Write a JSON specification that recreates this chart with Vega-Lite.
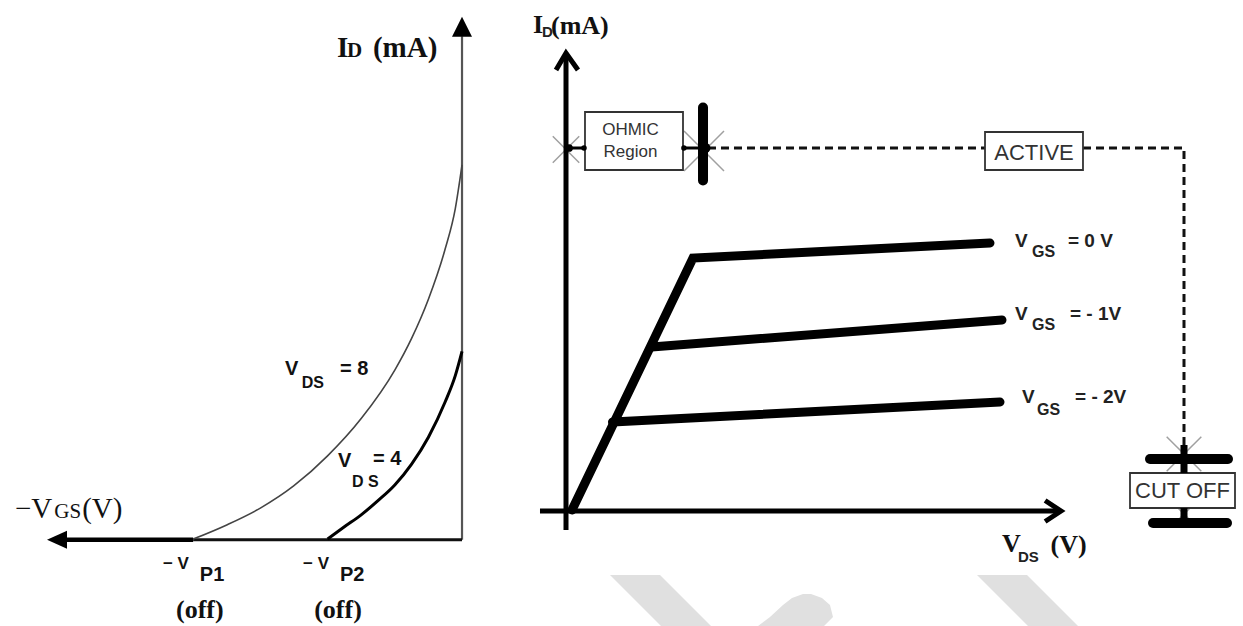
{
  "$schema": "https://vega.github.io/schema/vega-lite/v6.json",
  "background": "white",
  "padding": 0,
  "spacing": 0,
  "bounds": "flush",
  "config": {"view": {"stroke": null}},
  "resolve": {"scale": {"x": "independent", "y": "independent"}},
  "datasets": {
    "leftCurves": [
      {"curve": "VDS8", "i": 0, "x": -8, "y": -0.03},
      {"curve": "VDS8", "i": 1, "x": -7, "y": 0.35},
      {"curve": "VDS8", "i": 2, "x": -6, "y": 0.8},
      {"curve": "VDS8", "i": 3, "x": -5, "y": 1.4},
      {"curve": "VDS8", "i": 4, "x": -4, "y": 2.2},
      {"curve": "VDS8", "i": 5, "x": -3, "y": 3.2},
      {"curve": "VDS8", "i": 6, "x": -2, "y": 4.5},
      {"curve": "VDS8", "i": 7, "x": -1.5, "y": 5.35},
      {"curve": "VDS8", "i": 8, "x": -1, "y": 6.4},
      {"curve": "VDS8", "i": 9, "x": -0.5, "y": 7.75},
      {"curve": "VDS8", "i": 10, "x": -0.2, "y": 8.83},
      {"curve": "VDS8", "i": 11, "x": 0, "y": 10},
      {"curve": "VDS4", "i": 0, "x": -4, "y": -0.03},
      {"curve": "VDS4", "i": 1, "x": -3.5, "y": 0.3},
      {"curve": "VDS4", "i": 2, "x": -3, "y": 0.62},
      {"curve": "VDS4", "i": 3, "x": -2.5, "y": 1.0},
      {"curve": "VDS4", "i": 4, "x": -2, "y": 1.42},
      {"curve": "VDS4", "i": 5, "x": -1.5, "y": 1.98},
      {"curve": "VDS4", "i": 6, "x": -1, "y": 2.7},
      {"curve": "VDS4", "i": 7, "x": -0.5, "y": 3.65},
      {"curve": "VDS4", "i": 8, "x": -0.2, "y": 4.35},
      {"curve": "VDS4", "i": 9, "x": 0, "y": 5.0}
    ],
    "leftAxes": [
      {"part": "vaxis", "i": 0, "x": 0, "y": -0.05},
      {"part": "vaxis", "i": 1, "x": 0, "y": 13.45},
      {"part": "hthick", "i": 0, "x": -11.9, "y": -0.05},
      {"part": "hthick", "i": 1, "x": -8, "y": -0.05},
      {"part": "hthin", "i": 0, "x": -8, "y": -0.05},
      {"part": "hthin", "i": 1, "x": 0, "y": -0.05}
    ],
    "leftArrows": [
      {"dir": "up", "x": 0, "y": 13.7},
      {"dir": "left", "x": -12.05, "y": -0.05}
    ],
    "leftText": [
      {"role": "axisMain", "label": "I", "x": -3.72, "y": 12.89},
      {"role": "axisMain", "label": "(mA)", "x": -2.65, "y": 12.89},
      {"role": "axisSub", "label": "D", "x": -3.42, "y": 12.89},
      {"role": "vgsMain", "label": "−V", "x": -13.3, "y": 0.54},
      {"role": "vgsMain", "label": "(V)", "x": -11.3, "y": 0.54},
      {"role": "vgsSub", "label": "GS", "x": -12.13, "y": 0.54},
      {"role": "off", "label": "(off)", "x": -7.8, "y": -2.14},
      {"role": "off", "label": "(off)", "x": -3.69, "y": -2.14},
      {"role": "curveMain", "label": "V", "x": -5.27, "y": 4.37},
      {"role": "curveMain", "label": "= 8", "x": -3.63, "y": 4.37},
      {"role": "curveMain", "label": "V", "x": -3.69, "y": 1.9},
      {"role": "curveMain", "label": "= 4", "x": -2.65, "y": 1.96},
      {"role": "curveMain", "label": "P1", "x": -7.8, "y": -1.15},
      {"role": "curveMain", "label": "P2", "x": -3.63, "y": -1.15},
      {"role": "curveSub", "label": "DS", "x": -4.77, "y": 4.02},
      {"role": "curveSub", "label": "D S", "x": -3.27, "y": 1.37},
      {"role": "pinch", "label": "− V", "x": -8.9, "y": -0.83},
      {"role": "pinch", "label": "− V", "x": -4.73, "y": -0.83}
    ],
    "watermark": [
      {"band": "a", "y": -2.133, "x": 1.467, "x2": 3.133},
      {"band": "a", "y": -3.833, "x": 3.167, "x2": 4.833},
      {"band": "b", "y": -2.767, "x": 7.9, "x2": 8.167},
      {"band": "b", "y": -2.9, "x": 7.533, "x2": 8.533},
      {"band": "b", "y": -3.133, "x": 7.233, "x2": 8.8},
      {"band": "b", "y": -3.533, "x": 6.8, "x2": 8.9},
      {"band": "b", "y": -3.833, "x": 6.4, "x2": 8.6},
      {"band": "c", "y": -2.133, "x": 13.7, "x2": 15.367},
      {"band": "c", "y": -3.833, "x": 15.4, "x2": 17.067}
    ],
    "rightCurves": [
      {"part": "g0", "i": 0, "x": 0.2, "y": 0.033},
      {"part": "g0", "i": 1, "x": 4.233, "y": 8.433},
      {"part": "g0", "i": 2, "x": 14.133, "y": 8.933},
      {"part": "g1", "i": 0, "x": 2.85, "y": 5.467},
      {"part": "g1", "i": 1, "x": 14.533, "y": 6.367},
      {"part": "g2", "i": 0, "x": 1.55, "y": 2.967},
      {"part": "g2", "i": 1, "x": 14.467, "y": 3.633}
    ],
    "rightAxes": [
      {"part": "yaxis", "i": 0, "x": 0, "y": -0.633},
      {"part": "yaxis", "i": 1, "x": 0, "y": 15.2},
      {"part": "yarrow", "i": 0, "x": -0.333, "y": 14.7},
      {"part": "yarrow", "i": 1, "x": 0, "y": 15.267},
      {"part": "yarrow", "i": 2, "x": 0.4, "y": 14.7},
      {"part": "xaxis", "i": 0, "x": -0.867, "y": 0},
      {"part": "xaxis", "i": 1, "x": 16.4, "y": 0},
      {"part": "xarrow", "i": 0, "x": 15.97, "y": 0.35},
      {"part": "xarrow", "i": 1, "x": 16.5, "y": 0},
      {"part": "xarrow", "i": 2, "x": 15.97, "y": -0.35}
    ],
    "rightSolid": [
      {"part": "c1", "i": 0, "x": 0, "y": 12.1},
      {"part": "c1", "i": 1, "x": 0.633, "y": 12.1},
      {"part": "c2", "i": 0, "x": 3.9, "y": 12.1},
      {"part": "c2", "i": 1, "x": 4.567, "y": 12.1}
    ],
    "rightDashed": [
      {"part": "d1", "i": 0, "x": 4.733, "y": 12.1},
      {"part": "d1", "i": 1, "x": 13.967, "y": 12.1},
      {"part": "d2", "i": 0, "x": 17.233, "y": 12.1},
      {"part": "d2", "i": 1, "x": 20.6, "y": 12.1},
      {"part": "d2", "i": 2, "x": 20.6, "y": 2.2}
    ],
    "rightBars": [
      {"part": "b1", "i": 0, "x": 4.567, "y": 13.45},
      {"part": "b1", "i": 1, "x": 4.567, "y": 11.017},
      {"part": "b2", "i": 0, "x": 19.467, "y": 1.733},
      {"part": "b2", "i": 1, "x": 22.067, "y": 1.733},
      {"part": "b3", "i": 0, "x": 19.567, "y": -0.4},
      {"part": "b3", "i": 1, "x": 22.033, "y": -0.4}
    ],
    "rightConnectors": [
      {"part": "k1", "i": 0, "x": 20.6, "y": 2.2},
      {"part": "k1", "i": 1, "x": 20.6, "y": 1.267},
      {"part": "k2", "i": 0, "x": 20.6, "y": 0.1},
      {"part": "k2", "i": 1, "x": 20.6, "y": -0.4}
    ],
    "rightBoxes": [
      {"box": "OHMIC", "x": 0.633, "x2": 3.9, "y": 11.367, "y2": 13.3},
      {"box": "ACTIVE", "x": 13.967, "x2": 17.233, "y": 11.367, "y2": 12.633},
      {"box": "CUT OFF", "x": 18.8, "x2": 22.3, "y": 0.1, "y2": 1.267}
    ],
    "rightDots": [
      {"kind": "small", "x": 0.6, "y": 12.1},
      {"kind": "small", "x": 3.93, "y": 12.1},
      {"kind": "mid", "x": 0.1, "y": 12.1},
      {"kind": "big", "x": 4.633, "y": 12.1}
    ],
    "rightStars": [
      {"kind": "big", "x": 4.6, "y": 12.0},
      {"kind": "mid", "x": 0, "y": 12.05},
      {"kind": "mid2", "x": 20.6, "y": 1.9},
      {"kind": "small", "x": 20.6, "y": -0.1}
    ],
    "rightText": [
      {"role": "axisMain", "label": "I", "x": -1.1, "y": 15.933},
      {"role": "axisMain", "label": "(mA)", "x": -0.5, "y": 15.9},
      {"role": "axisMain", "label": "V", "x": 14.533, "y": -1.367},
      {"role": "axisMain", "label": "(V)", "x": 16.15, "y": -1.4},
      {"role": "sub", "label": "D", "x": -0.8, "y": 15.8},
      {"role": "sub", "label": "DS", "x": 15.067, "y": -1.7},
      {"role": "gsMain", "label": "V", "x": 14.967, "y": 8.8},
      {"role": "gsMain", "label": "= 0 V", "x": 16.733, "y": 8.8},
      {"role": "gsMain", "label": "V", "x": 14.967, "y": 6.367},
      {"role": "gsMain", "label": "= - 1V", "x": 16.8, "y": 6.367},
      {"role": "gsMain", "label": "V", "x": 15.2, "y": 3.6},
      {"role": "gsMain", "label": "= - 2V", "x": 16.967, "y": 3.6},
      {"role": "gsSub", "label": "GS", "x": 15.533, "y": 8.467},
      {"role": "gsSub", "label": "GS", "x": 15.533, "y": 6.033},
      {"role": "gsSub", "label": "GS", "x": 15.7, "y": 3.2},
      {"role": "region", "label": "OHMIC", "x": 2.15, "y": 12.533},
      {"role": "region", "label": "Region", "x": 2.15, "y": 11.8},
      {"role": "regionBig", "label": "ACTIVE", "x": 15.6, "y": 11.7},
      {"role": "regionBig", "label": "CUT OFF", "x": 20.55, "y": 0.433}
    ]
  },
  "hconcat": [
    {
      "width": 500,
      "height": 626,
      "encoding": {
        "x": {"field": "x", "type": "quantitative", "scale": {"domain": [-13.746, 1.13], "nice": false, "zero": false}, "axis": null},
        "y": {"field": "y", "type": "quantitative", "scale": {"domain": [-2.36, 14.42], "nice": false, "zero": false}, "axis": null}
      },
      "layer": [
        {
          "data": {"name": "leftAxes"},
          "transform": [{"filter": "datum.part === 'vaxis'"}],
          "mark": {"type": "line", "color": "#555555", "strokeWidth": 2.2},
          "encoding": {"detail": {"field": "part"}, "order": {"field": "i"}}
        },
        {
          "data": {"name": "leftAxes"},
          "transform": [{"filter": "datum.part === 'hthick'"}],
          "mark": {"type": "line", "color": "#000000", "strokeWidth": 4.5},
          "encoding": {"detail": {"field": "part"}, "order": {"field": "i"}}
        },
        {
          "data": {"name": "leftAxes"},
          "transform": [{"filter": "datum.part === 'hthin'"}],
          "mark": {"type": "line", "color": "#111111", "strokeWidth": 3},
          "encoding": {"detail": {"field": "part"}, "order": {"field": "i"}}
        },
        {
          "data": {"name": "leftCurves"},
          "transform": [{"filter": "datum.curve === 'VDS8'"}],
          "mark": {"type": "line", "color": "#444444", "strokeWidth": 1.6, "interpolate": "monotone"},
          "encoding": {"order": {"field": "i"}}
        },
        {
          "data": {"name": "leftCurves"},
          "transform": [{"filter": "datum.curve === 'VDS4'"}],
          "mark": {"type": "line", "color": "#000000", "strokeWidth": 3, "interpolate": "monotone"},
          "encoding": {"order": {"field": "i"}}
        },
        {
          "data": {"name": "leftArrows"},
          "transform": [{"filter": "datum.dir === 'up'"}],
          "mark": {"type": "point", "shape": "M0,-1L1,1L-1,1Z", "filled": true, "color": "#000000", "opacity": 1, "size": 400}
        },
        {
          "data": {"name": "leftArrows"},
          "transform": [{"filter": "datum.dir === 'left'"}],
          "mark": {"type": "point", "shape": "M-1,0L1,-0.9L1,0.9Z", "filled": true, "color": "#000000", "opacity": 1, "size": 400}
        },
        {
          "data": {"name": "leftText"},
          "transform": [{"filter": "datum.role === 'axisMain'"}],
          "mark": {"type": "text", "font": "Liberation Serif", "fontWeight": "bold", "fontSize": 29, "align": "left", "baseline": "alphabetic", "color": "#111111"},
          "encoding": {"text": {"field": "label"}}
        },
        {
          "data": {"name": "leftText"},
          "transform": [{"filter": "datum.role === 'axisSub'"}],
          "mark": {"type": "text", "font": "Liberation Serif", "fontWeight": "bold", "fontSize": 21, "align": "left", "baseline": "alphabetic", "color": "#111111"},
          "encoding": {"text": {"field": "label"}}
        },
        {
          "data": {"name": "leftText"},
          "transform": [{"filter": "datum.role === 'vgsMain'"}],
          "mark": {"type": "text", "font": "Liberation Serif", "fontSize": 29, "align": "left", "baseline": "alphabetic", "color": "#111111"},
          "encoding": {"text": {"field": "label"}}
        },
        {
          "data": {"name": "leftText"},
          "transform": [{"filter": "datum.role === 'vgsSub'"}],
          "mark": {"type": "text", "font": "Liberation Serif", "fontSize": 21, "align": "left", "baseline": "alphabetic", "color": "#111111"},
          "encoding": {"text": {"field": "label"}}
        },
        {
          "data": {"name": "leftText"},
          "transform": [{"filter": "datum.role === 'off'"}],
          "mark": {"type": "text", "font": "Liberation Serif", "fontWeight": "bold", "fontSize": 26, "align": "center", "baseline": "alphabetic", "color": "#111111"},
          "encoding": {"text": {"field": "label"}}
        },
        {
          "data": {"name": "leftText"},
          "transform": [{"filter": "datum.role === 'curveMain'"}],
          "mark": {"type": "text", "font": "Liberation Sans", "fontWeight": "bold", "fontSize": 20, "align": "left", "baseline": "alphabetic", "color": "#111111"},
          "encoding": {"text": {"field": "label"}}
        },
        {
          "data": {"name": "leftText"},
          "transform": [{"filter": "datum.role === 'curveSub'"}],
          "mark": {"type": "text", "font": "Liberation Sans", "fontWeight": "bold", "fontSize": 16, "align": "left", "baseline": "alphabetic", "color": "#111111"},
          "encoding": {"text": {"field": "label"}}
        },
        {
          "data": {"name": "leftText"},
          "transform": [{"filter": "datum.role === 'pinch'"}],
          "mark": {"type": "text", "font": "Liberation Sans", "fontWeight": "bold", "fontSize": 17, "align": "left", "baseline": "alphabetic", "color": "#111111"},
          "encoding": {"text": {"field": "label"}}
        }
      ]
    },
    {
      "width": 743,
      "height": 626,
      "encoding": {
        "x": {"field": "x", "type": "quantitative", "scale": {"domain": [-2.2, 22.5667], "nice": false, "zero": false}, "axis": null},
        "y": {"field": "y", "type": "quantitative", "scale": {"domain": [-3.8333, 17.0333], "nice": false, "zero": false}, "axis": null}
      },
      "layer": [
        {
          "data": {"name": "watermark"},
          "mark": {"type": "area", "orient": "horizontal", "color": "#e0e0e0"},
          "encoding": {"x2": {"field": "x2"}, "detail": {"field": "band"}}
        },
        {
          "data": {"name": "rightStars"},
          "transform": [{"filter": "datum.kind === 'big'"}],
          "mark": {"type": "point", "shape": "M-1,-1L1,1M-1,1L1,-1", "filled": false, "color": "#a0a0a0", "strokeWidth": 1.5, "opacity": 1, "size": 1600}
        },
        {
          "data": {"name": "rightStars"},
          "transform": [{"filter": "datum.kind === 'mid'"}],
          "mark": {"type": "point", "shape": "M-1,-1L1,1M-1,1L1,-1", "filled": false, "color": "#a0a0a0", "strokeWidth": 1.5, "opacity": 1, "size": 700}
        },
        {
          "data": {"name": "rightStars"},
          "transform": [{"filter": "datum.kind === 'mid2'"}],
          "mark": {"type": "point", "shape": "M-1,-1L1,1M-1,1L1,-1", "filled": false, "color": "#a0a0a0", "strokeWidth": 1.5, "opacity": 1, "size": 1200}
        },
        {
          "data": {"name": "rightStars"},
          "transform": [{"filter": "datum.kind === 'small'"}],
          "mark": {"type": "point", "shape": "M-1,-1L1,1M-1,1L1,-1", "filled": false, "color": "#a0a0a0", "strokeWidth": 1.5, "opacity": 1, "size": 300}
        },
        {
          "data": {"name": "rightAxes"},
          "mark": {"type": "line", "color": "#000000", "strokeWidth": 5, "strokeJoin": "miter"},
          "encoding": {"detail": {"field": "part"}, "order": {"field": "i"}}
        },
        {
          "data": {"name": "rightCurves"},
          "mark": {"type": "line", "color": "#000000", "strokeWidth": 9, "strokeCap": "round", "strokeJoin": "miter"},
          "encoding": {"detail": {"field": "part"}, "order": {"field": "i"}}
        },
        {
          "data": {"name": "rightDashed"},
          "mark": {"type": "line", "color": "#111111", "strokeWidth": 3, "strokeDash": [8, 5]},
          "encoding": {"detail": {"field": "part"}, "order": {"field": "i"}}
        },
        {
          "data": {"name": "rightSolid"},
          "mark": {"type": "line", "color": "#000000", "strokeWidth": 3},
          "encoding": {"detail": {"field": "part"}, "order": {"field": "i"}}
        },
        {
          "data": {"name": "rightBoxes"},
          "mark": {"type": "rect", "fill": "#ffffff", "stroke": "#333333", "strokeWidth": 1.8},
          "encoding": {"x2": {"field": "x2"}, "y2": {"field": "y2"}}
        },
        {
          "data": {"name": "rightBars"},
          "mark": {"type": "line", "color": "#000000", "strokeWidth": 10, "strokeCap": "round"},
          "encoding": {"detail": {"field": "part"}, "order": {"field": "i"}}
        },
        {
          "data": {"name": "rightConnectors"},
          "mark": {"type": "line", "color": "#000000", "strokeWidth": 7},
          "encoding": {"detail": {"field": "part"}, "order": {"field": "i"}}
        },
        {
          "data": {"name": "rightDots"},
          "transform": [{"filter": "datum.kind === 'small'"}],
          "mark": {"type": "point", "shape": "circle", "filled": true, "color": "#000000", "opacity": 1, "size": 30}
        },
        {
          "data": {"name": "rightDots"},
          "transform": [{"filter": "datum.kind === 'mid'"}],
          "mark": {"type": "point", "shape": "circle", "filled": true, "color": "#000000", "opacity": 1, "size": 60}
        },
        {
          "data": {"name": "rightDots"},
          "transform": [{"filter": "datum.kind === 'big'"}],
          "mark": {"type": "point", "shape": "circle", "filled": true, "color": "#000000", "opacity": 1, "size": 120}
        },
        {
          "data": {"name": "rightText"},
          "transform": [{"filter": "datum.role === 'axisMain'"}],
          "mark": {"type": "text", "font": "Liberation Serif", "fontWeight": "bold", "fontSize": 26, "align": "left", "baseline": "alphabetic", "color": "#111111"},
          "encoding": {"text": {"field": "label"}}
        },
        {
          "data": {"name": "rightText"},
          "transform": [{"filter": "datum.role === 'sub'"}],
          "mark": {"type": "text", "font": "Liberation Sans", "fontWeight": "bold", "fontSize": 15, "align": "left", "baseline": "alphabetic", "color": "#222222"},
          "encoding": {"text": {"field": "label"}}
        },
        {
          "data": {"name": "rightText"},
          "transform": [{"filter": "datum.role === 'gsSub'"}],
          "mark": {"type": "text", "font": "Liberation Sans", "fontWeight": "bold", "fontSize": 16, "align": "left", "baseline": "alphabetic", "color": "#222222"},
          "encoding": {"text": {"field": "label"}}
        },
        {
          "data": {"name": "rightText"},
          "transform": [{"filter": "datum.role === 'gsMain'"}],
          "mark": {"type": "text", "font": "Liberation Sans", "fontWeight": "bold", "fontSize": 19, "align": "left", "baseline": "alphabetic", "color": "#222222"},
          "encoding": {"text": {"field": "label"}}
        },
        {
          "data": {"name": "rightText"},
          "transform": [{"filter": "datum.role === 'region'"}],
          "mark": {"type": "text", "font": "Liberation Sans", "fontSize": 17, "align": "center", "baseline": "alphabetic", "color": "#333333"},
          "encoding": {"text": {"field": "label"}}
        },
        {
          "data": {"name": "rightText"},
          "transform": [{"filter": "datum.role === 'regionBig'"}],
          "mark": {"type": "text", "font": "Liberation Sans", "fontSize": 22, "align": "center", "baseline": "alphabetic", "color": "#333333"},
          "encoding": {"text": {"field": "label"}}
        }
      ]
    }
  ]
}
